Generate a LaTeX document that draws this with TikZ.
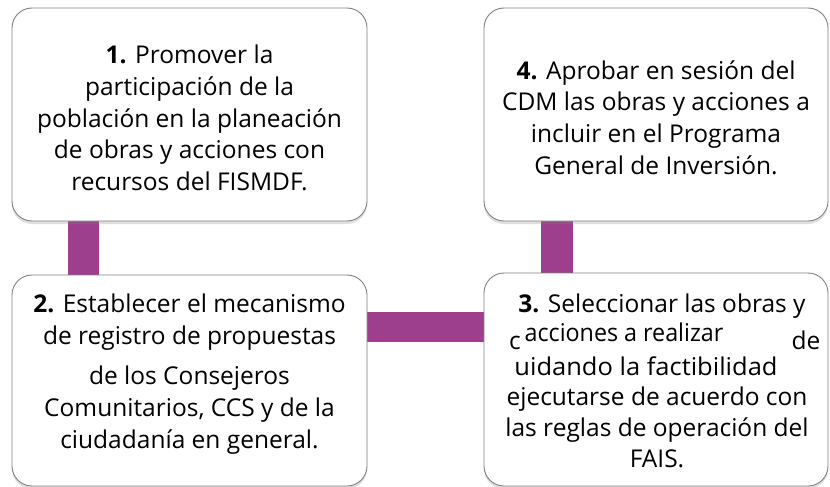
\documentclass[tikz,border=0pt]{standalone}
\usepackage{fontspec}
\setmainfont{Open Sans}
\usetikzlibrary{shadows}
\definecolor{barpurple}{HTML}{9D3F8C}
\definecolor{boxline}{HTML}{808080}
\tikzset{
  stepbox/.style={draw=boxline, line width=0.9pt, fill=white, rounded corners=20pt,
    drop shadow={opacity=0.25, shadow xshift=0pt, shadow yshift=-3pt}},
  steptext/.style={align=center, font=\fontsize{24.5}{31.7}\selectfont, inner sep=0pt},
  bar/.style={fill=barpurple, draw=none}
}
\begin{document}
\begin{tikzpicture}[x=1pt,y=-1pt]
\useasboundingbox (0,0) rectangle (830,487);
% connector bars (behind boxes)
\coordinate (b1a) at (68,215); \coordinate (b1b) at (99,280);
\coordinate (b2a) at (360,312); \coordinate (b2b) at (490,342);
\coordinate (b3a) at (541,215); \coordinate (b3b) at (573,280);
\fill[bar] (b1a) rectangle (b1b);
\fill[bar] (b2a) rectangle (b2b);
\fill[bar] (b3a) rectangle (b3b);
% boxes
\coordinate (p1a) at (12,8);   \coordinate (p1b) at (367,221);
\coordinate (p4a) at (484,8);  \coordinate (p4b) at (828,221);
\coordinate (p2a) at (12,275); \coordinate (p2b) at (367,486);
\coordinate (p3a) at (484,273);\coordinate (p3b) at (828,486);
\path[stepbox] (p1a) rectangle (p1b);
\path[stepbox] (p4a) rectangle (p4b);
\path[stepbox] (p2a) rectangle (p2b);
\path[stepbox] (p3a) rectangle (p3b);
% texts
\node[steptext] (t1) at (189.5,118) {\textbf{1.} Promover la\\participación de la\\población en la planeación\\de obras y acciones con\\recursos del FISMDF.};
\node[steptext] (t4) at (656,117.5) {\textbf{4.} Aprobar en sesión del\\CDM las obras y acciones a\\incluir en el Programa\\General de Inversión.};
\node[steptext] (t2) at (189.5,374) {\textbf{2.} Establecer el mecanismo\\de registro de propuestas\\[9pt]de los Consejeros\\Comunitarios, CCS y de la\\ciudadanía en general.};
\node[steptext, anchor=base] (t3a) at (662,312) {\textbf{3.} Seleccionar las obras y};
\node[steptext, anchor=base] (t3b) at (624,341) {\scalebox{0.95}[1]{acciones a realizar}};
\node[steptext, anchor=base] (t3c) at (515,349) {c};
\node[steptext, anchor=base] (t3d) at (806,349) {de};
\node[steptext, anchor=base] (t3e) at (646,375) {\scalebox{1.04}[1]{uidando la factibilidad}};
\node[steptext, anchor=base] (t3f) at (657,405) {ejecutarse de acuerdo con};
\node[steptext, anchor=base] (t3g) at (657,436) {las reglas de operación del};
\node[steptext, anchor=base] (t3h) at (657,467) {FAIS.};
\end{tikzpicture}
\end{document}
